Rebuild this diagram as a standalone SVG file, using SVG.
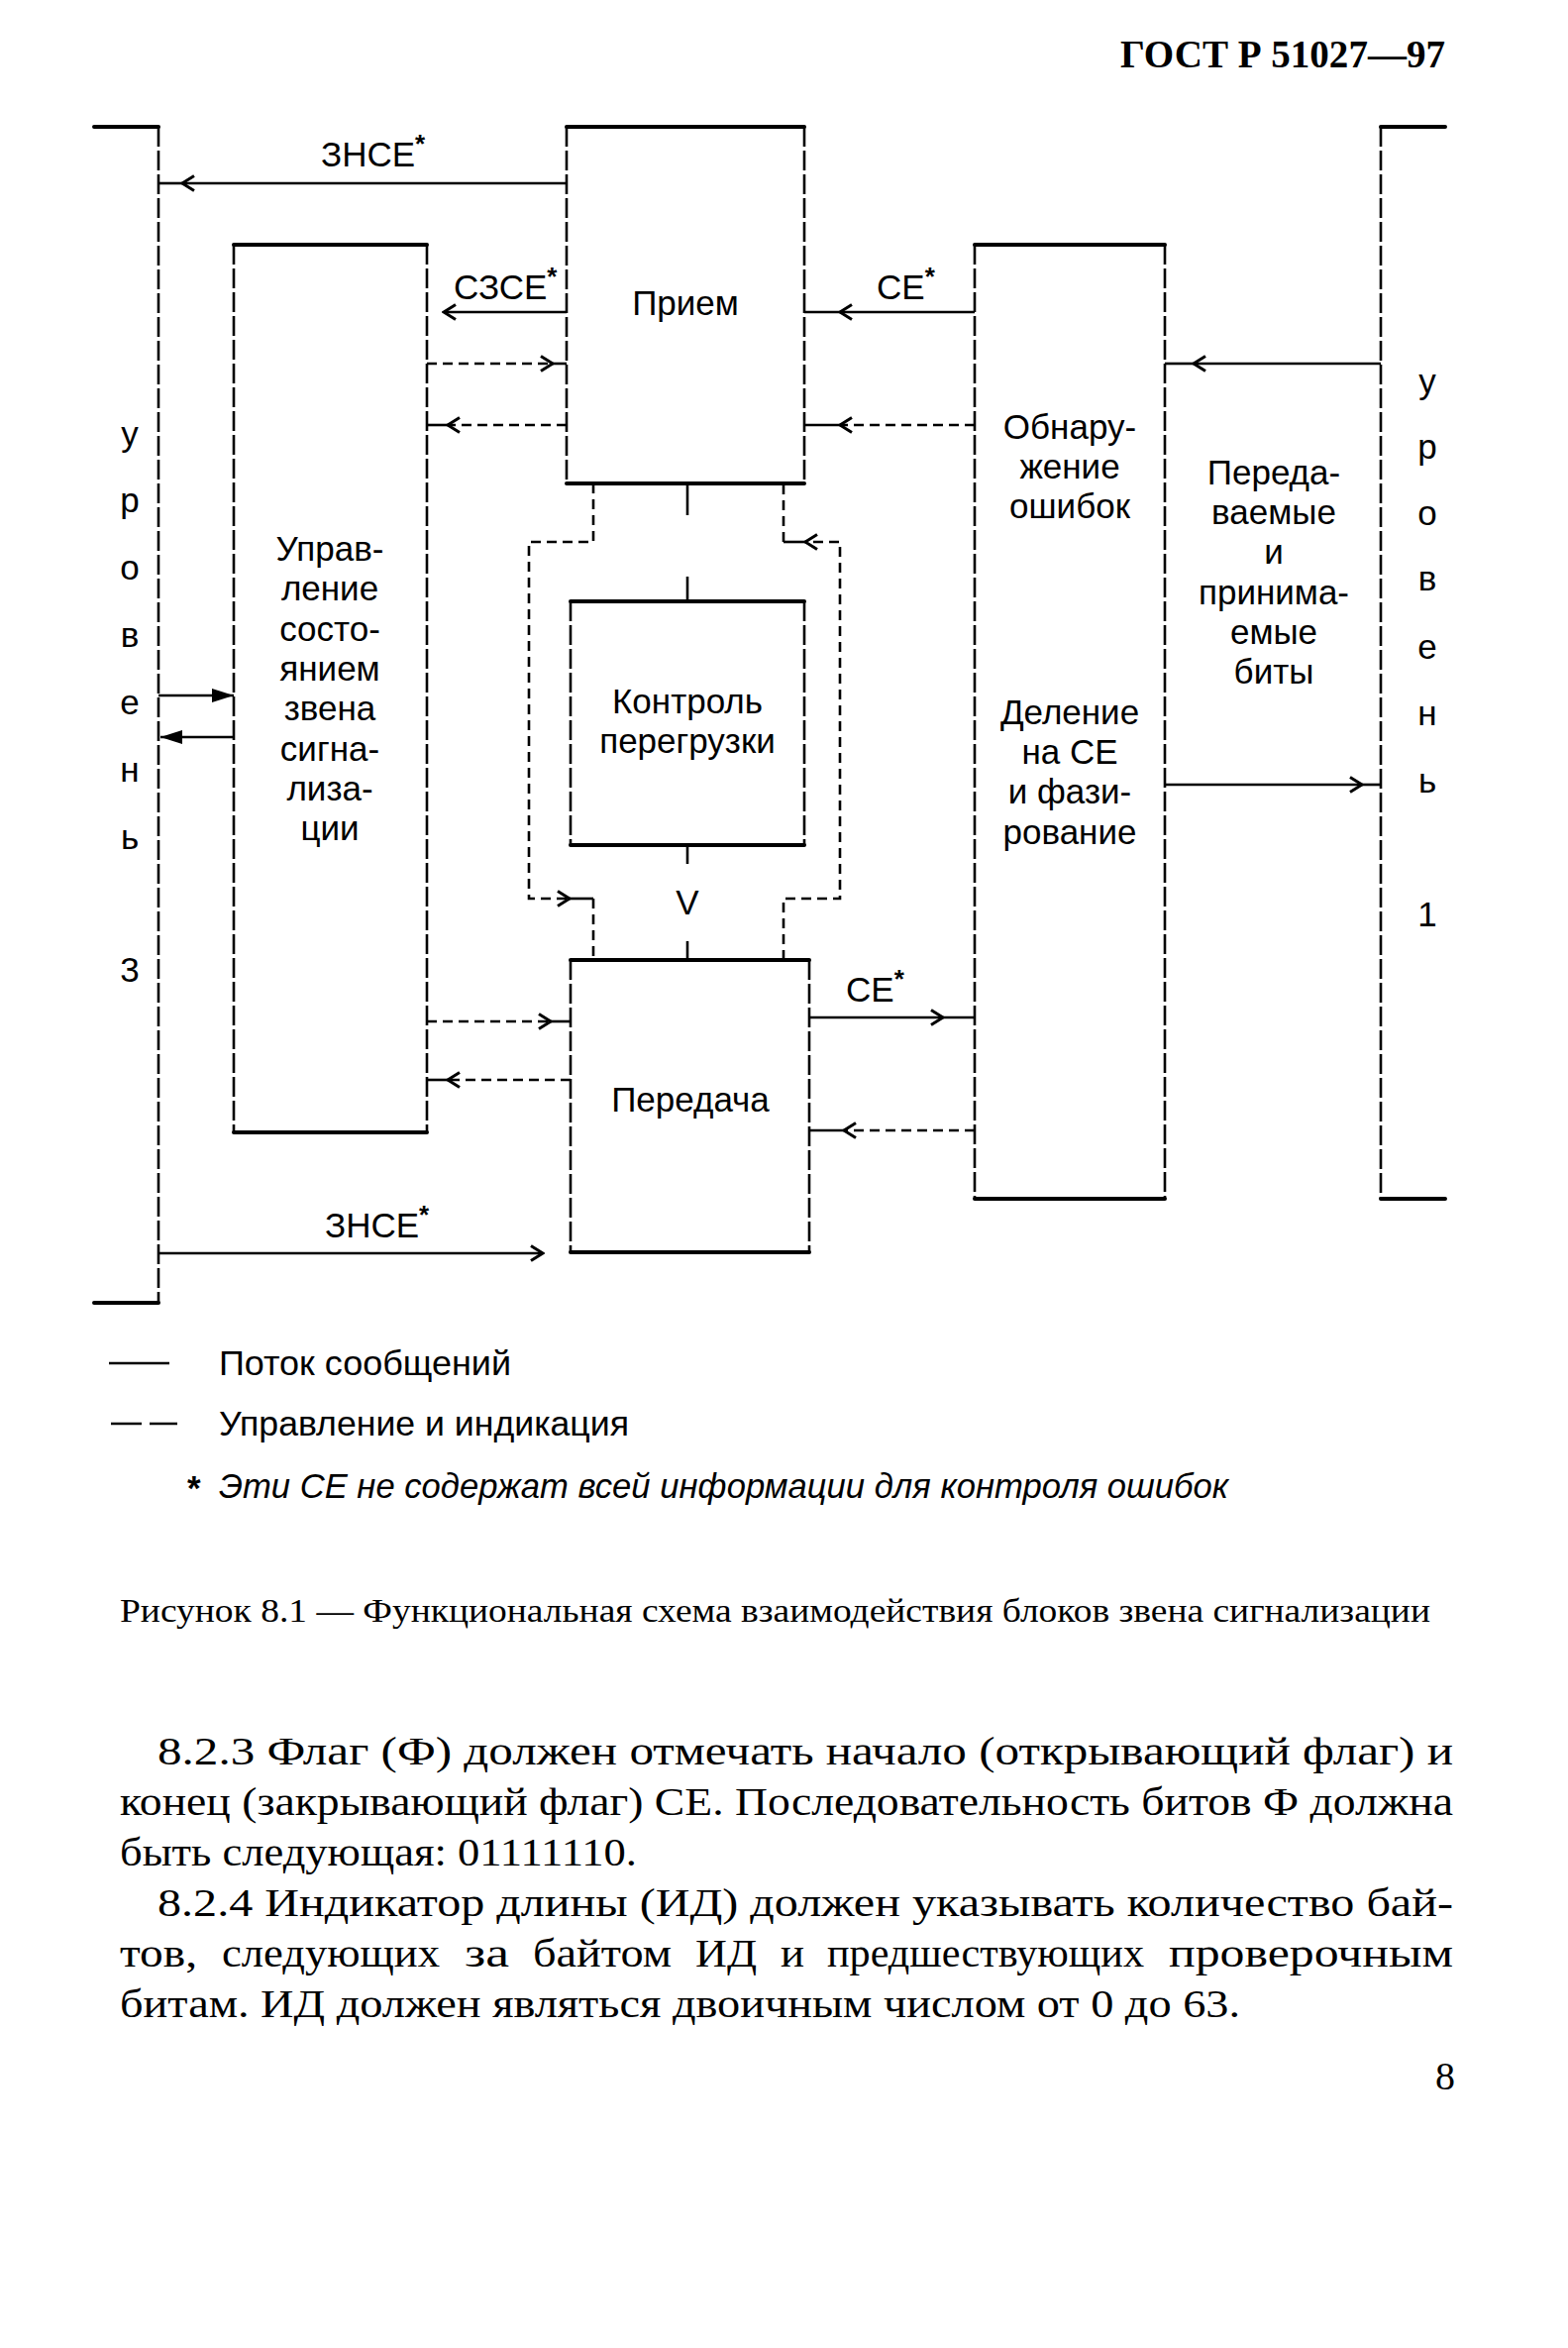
<svg xmlns="http://www.w3.org/2000/svg" width="1583" height="2370" viewBox="0 0 1583 2370">
<defs>
<style>
.hs{stroke:#000;stroke-width:4;fill:none;stroke-linecap:round}
.vs{stroke:#000;stroke-width:2.6;fill:none;stroke-dasharray:20 4}
.ln{stroke:#000;stroke-width:2.6;fill:none}
.dl{stroke:#000;stroke-width:2.6;fill:none;stroke-dasharray:10 6}
.t{font-family:"Liberation Sans",Arial,sans-serif;font-size:35px;fill:#000;text-anchor:middle}
.tl{font-family:"Liberation Sans",Arial,sans-serif;font-size:35px;fill:#000}
.ast{font-size:26px;font-weight:bold}
.sr{font-family:"Liberation Serif","Times New Roman",serif;fill:#000}
.body{font-size:40px}
</style>
<marker id="chev" markerUnits="userSpaceOnUse" viewBox="0 0 16 19" markerWidth="16" markerHeight="19" refX="14" refY="9.5" orient="auto">
<path d="M2,2 L14,9.5 L2,17" fill="none" stroke="#000" stroke-width="3"/>
</marker>
<marker id="tri" markerUnits="userSpaceOnUse" viewBox="0 0 22 14" markerWidth="22" markerHeight="14" refX="22" refY="7" orient="auto">
<path d="M0,0 L22,7 L0,14 z" fill="#000"/>
</marker>
</defs>
<rect width="1583" height="2370" fill="#fff"/>

<text class="sr" x="1459" y="68" font-size="39" font-weight="bold" text-anchor="end" textLength="328" lengthAdjust="spacingAndGlyphs">ГОСТ Р 51027—97</text>

<g id="level3">
<path class="hs" d="M95,128 H160 M95,1315 H160"/>
<path class="vs" d="M160,128 V1315"/>
<text class="t" x="131" y="450">у</text>
<text class="t" x="131" y="517">р</text>
<text class="t" x="131" y="585">о</text>
<text class="t" x="131" y="653">в</text>
<text class="t" x="131" y="721">е</text>
<text class="t" x="131" y="789">н</text>
<text class="t" x="131" y="857">ь</text>
<text class="t" x="131" y="991">3</text>
</g>

<g id="level1">
<path class="hs" d="M1394,128 H1459 M1394,1210 H1459"/>
<path class="vs" d="M1394,128 V1210"/>
<text class="t" x="1441" y="397">у</text>
<text class="t" x="1441" y="463">р</text>
<text class="t" x="1441" y="530">о</text>
<text class="t" x="1441" y="596">в</text>
<text class="t" x="1441" y="665">е</text>
<text class="t" x="1441" y="732">н</text>
<text class="t" x="1441" y="800">ь</text>
<text class="t" x="1441" y="935">1</text>
</g>

<g id="priem">
<path class="hs" d="M572,128 H812 M572,488 H812"/>
<path class="vs" d="M572,128 V488 M812,128 V488"/>
<text class="t" x="692" y="318">Прием</text>
</g>

<g id="upravlenie">
<path class="hs" d="M236,247 H431 M236,1143 H431"/>
<path class="vs" d="M236,247 V1143 M431,247 V1143"/>
<text class="t" x="333" y="566">Управ-</text>
<text class="t" x="333" y="606">ление</text>
<text class="t" x="333" y="647">состо-</text>
<text class="t" x="333" y="687">янием</text>
<text class="t" x="333" y="727">звена</text>
<text class="t" x="333" y="768">сигна-</text>
<text class="t" x="333" y="808">лиза-</text>
<text class="t" x="333" y="848">ции</text>
</g>

<g id="obnaruzhenie">
<path class="hs" d="M984,247 H1176 M984,1210 H1176"/>
<path class="vs" d="M984,247 V1210 M1176,247 V1210"/>
<text class="t" x="1080" y="443">Обнару-</text>
<text class="t" x="1080" y="483">жение</text>
<text class="t" x="1080" y="523">ошибок</text>
<text class="t" x="1080" y="731">Деление</text>
<text class="t" x="1080" y="771">на СЕ</text>
<text class="t" x="1080" y="811">и фази-</text>
<text class="t" x="1080" y="852">рование</text>
</g>

<g id="kontrol">
<path class="hs" d="M576,607 H812 M576,853 H812"/>
<path class="vs" d="M576,607 V853 M812,607 V853"/>
<text class="t" x="694" y="720">Контроль</text>
<text class="t" x="694" y="760">перегрузки</text>
</g>

<g id="peredacha">
<path class="hs" d="M576,969 H817 M576,1264 H817"/>
<path class="vs" d="M576,969 V1264 M817,969 V1264"/>
<text class="t" x="697" y="1122">Передача</text>
</g>

<g id="bits">
<text class="t" x="1286" y="489">Переда-</text>
<text class="t" x="1286" y="529">ваемые</text>
<text class="t" x="1286" y="569">и</text>
<text class="t" x="1286" y="610">принима-</text>
<text class="t" x="1286" y="650">емые</text>
<text class="t" x="1286" y="690">биты</text>
</g>

<g id="connectors">
<path class="ln" d="M572,185 H184" marker-end="url(#chev)"/>
<path class="ln" d="M184,185 H160"/>
<text class="tl" x="324" y="168">ЗНСЕ<tspan class="ast" dy="-14">*</tspan></text>
<path class="ln" d="M572,315 H448" marker-end="url(#chev)"/>
<text class="tl" x="458" y="302">СЗСЕ<tspan class="ast" dy="-14">*</tspan></text>
<path class="dl" d="M431,367 H558" marker-end="url(#chev)"/>
<path class="ln" d="M556,367 H572"/>
<path class="dl" d="M572,429 H452" marker-end="url(#chev)"/>
<path class="ln" d="M454,429 H431"/>
<path class="ln" d="M984,315 H848" marker-end="url(#chev)"/>
<path class="ln" d="M850,315 H812"/>
<text class="tl" x="885" y="302">СЕ<tspan class="ast" dy="-14">*</tspan></text>
<path class="dl" d="M984,429 H848" marker-end="url(#chev)"/>
<path class="ln" d="M850,429 H812"/>
<path class="ln" d="M1394,367 H1205" marker-end="url(#chev)"/>
<path class="ln" d="M1207,367 H1176"/>
<path class="ln" d="M1176,792 H1375" marker-end="url(#chev)"/>
<path class="ln" d="M1373,792 H1394"/>
<path class="ln" d="M160,702 H236" marker-end="url(#tri)"/>
<path class="ln" d="M236,744 H162" marker-end="url(#tri)"/>
<path class="dl" d="M599,488 V547 H534 V907 H575" marker-end="url(#chev)"/>
<path class="ln" d="M573,907 H599"/>
<path class="dl" d="M599,907 V969"/>
<path class="dl" d="M791,969 V907 H848 V547 H813" marker-end="url(#chev)"/>
<path class="ln" d="M815,547 H791"/>
<path class="dl" d="M791,547 V488"/>
<path class="ln" d="M694,488 V520 M694,582 V607 M694,853 V872 M694,950 V969"/>
<text class="t" x="694" y="923">V</text>
<path class="dl" d="M431,1031 H556" marker-end="url(#chev)"/>
<path class="ln" d="M554,1031 H576"/>
<path class="dl" d="M576,1090 H452" marker-end="url(#chev)"/>
<path class="ln" d="M454,1090 H431"/>
<path class="ln" d="M817,1027 H952" marker-end="url(#chev)"/>
<path class="ln" d="M950,1027 H984"/>
<text class="tl" x="854" y="1011">СЕ<tspan class="ast" dy="-14">*</tspan></text>
<path class="dl" d="M984,1141 H852" marker-end="url(#chev)"/>
<path class="ln" d="M854,1141 H817"/>
<path class="ln" d="M160,1265 H548" marker-end="url(#chev)"/>
<text class="tl" x="328" y="1249">ЗНСЕ<tspan class="ast" dy="-14">*</tspan></text>
</g>

<g id="legend">
<path class="ln" d="M110,1376 H171"/>
<text class="tl" x="221" y="1388" textLength="295" lengthAdjust="spacingAndGlyphs">Поток сообщений</text>
<path class="ln" d="M112,1437 H143 M151,1437 H179"/>
<text class="tl" x="221" y="1449" textLength="414" lengthAdjust="spacingAndGlyphs">Управление и индикация</text>
<text class="tl" x="189" y="1514" font-weight="bold" font-size="28">*</text>
<text class="tl" x="221" y="1512" font-style="italic" textLength="1019" lengthAdjust="spacingAndGlyphs">Эти СЕ не содержат всей информации для контроля ошибок</text>
</g>

<text class="sr" x="121" y="1637" font-size="34" textLength="1323" lengthAdjust="spacingAndGlyphs">Рисунок 8.1 — Функциональная схема взаимодействия блоков звена сигнализации</text>

<g class="sr body">
<text x="159" y="1781" textLength="1308" lengthAdjust="spacingAndGlyphs">8.2.3 Флаг (Ф) должен отмечать начало (открывающий флаг) и</text>
<text x="121" y="1832" textLength="1346" lengthAdjust="spacingAndGlyphs">конец (закрывающий флаг) СЕ. Последовательность битов Ф должна</text>
<text x="121" y="1883" textLength="522" lengthAdjust="spacingAndGlyphs">быть следующая: 01111110.</text>
<text x="159" y="1934" textLength="1308" lengthAdjust="spacingAndGlyphs">8.2.4 Индикатор длины (ИД) должен указывать количество бай-</text>
<text x="121" y="1985" textLength="78" lengthAdjust="spacingAndGlyphs">тов,</text>
<text x="224" y="1985" textLength="220" lengthAdjust="spacingAndGlyphs">следующих</text>
<text x="469" y="1985" textLength="45" lengthAdjust="spacingAndGlyphs">за</text>
<text x="538" y="1985" textLength="140" lengthAdjust="spacingAndGlyphs">байтом</text>
<text x="702" y="1985" textLength="62" lengthAdjust="spacingAndGlyphs">ИД</text>
<text x="788" y="1985" textLength="24" lengthAdjust="spacingAndGlyphs">и</text>
<text x="835" y="1985" textLength="320" lengthAdjust="spacingAndGlyphs">предшествующих</text>
<text x="1180" y="1985" textLength="287" lengthAdjust="spacingAndGlyphs">проверочным</text>
<text x="121" y="2036" textLength="1131" lengthAdjust="spacingAndGlyphs">битам. ИД должен являться двоичным числом от 0 до 63.</text>
<text x="1459" y="2109" text-anchor="middle">8</text>
</g>
</svg>
